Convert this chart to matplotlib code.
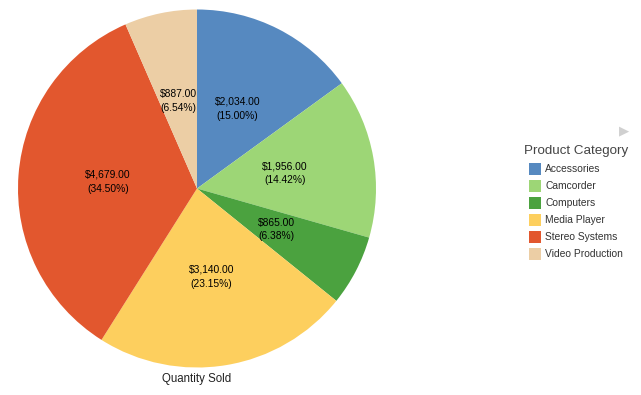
import matplotlib
matplotlib.use("Agg")
from matplotlib import pyplot as plt
from matplotlib.patches import Rectangle

plt.rcParams['font.family'] = ['Liberation Sans', 'DejaVu Sans']

categories = ['Accessories', 'Camcorder', 'Computers', 'Media Player', 'Stereo Systems', 'Video Production']
quantity = [2034.0, 1956.0, 865.0, 3140.0, 4679.0, 887.0]
percent = [15.00, 14.42, 6.38, 23.15, 34.50, 6.54]
colors = ['#5689C0', '#9DD676', '#4BA23F', '#FDCF5E', '#E2572E', '#ECCEA5']

W, H = 641, 395
fig = plt.figure(figsize=(W / 100, H / 100), dpi=100)

# pie: center (197,188), radius 179 px
cx, cy, r = 197, 188.5, 179
ax = fig.add_axes([(cx - r) / W, (H - cy - r) / H, 2 * r / W, 2 * r / H])
labels_txt = [f"${v:,.2f}\n({p:.2f}%)" for v, p in zip(quantity, percent)]
wedges, texts = ax.pie(quantity, colors=colors, startangle=90, counterclock=False,
                       radius=1.0, labels=labels_txt, labeldistance=0.5,
                       wedgeprops=dict(linewidth=0))
for t in texts:
    t.set_ha('center')
    t.set_va('center')
    t.set_fontsize(7.4)
    t.set_linespacing(1.45)
    t.set_multialignment('center')
ax.set_xlim(-1, 1)
ax.set_ylim(-1, 1)
ax.set_aspect('equal')
ax.axis('off')

fig.text(cx / W, 1 - 379 / H, 'Quantity Sold', ha='center', va='center', fontsize=8.3, color='#222222')

# legend drawn by hand (pixel positions)
def fy(y):
    return 1 - y / H

fig.text(524 / W, fy(151), 'Product Category', ha='left', va='center', fontsize=9.6, color='#444444')
for i, (name, c) in enumerate(zip(categories, colors)):
    y = 169 + 17 * i
    fig.patches.append(Rectangle((529 / W, fy(y + 6)), 12 / W, 12 / H, transform=fig.transFigure,
                                 facecolor=c, edgecolor='none'))
    fig.text(545 / W, fy(y), name, ha='left', va='center', fontsize=7.4, color='#333333')

fig.text(624 / W, fy(131), '\u25B6', ha='center', va='center', fontsize=9.5,
         color='#d0d0d0', family='DejaVu Sans')

fig.savefig('out.png', dpi=100)
